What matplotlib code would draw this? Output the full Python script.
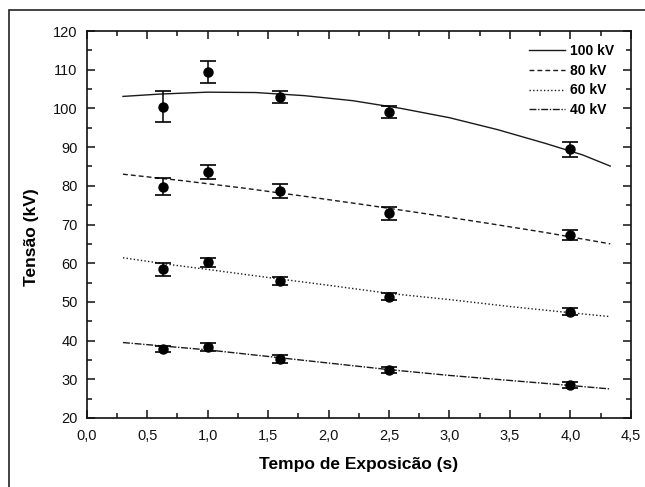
import matplotlib
matplotlib.use("Agg")
import matplotlib.pyplot as plt
from matplotlib.patches import Rectangle
from matplotlib.ticker import MultipleLocator, FuncFormatter

plt.rcParams['font.family'] = ['Liberation Sans', 'DejaVu Sans']

# measured points
t_exp = [0.63, 1.0, 1.6, 2.5, 4.0]
v100 = [100.4, 109.5, 102.9, 99.1, 89.4]
e100 = [4.0, 2.85, 1.55, 1.55, 1.95]
v80 = [79.8, 83.6, 78.6, 72.9, 67.3]
e80 = [2.3, 1.85, 1.75, 1.75, 1.2]
v60 = [58.4, 60.2, 55.5, 51.35, 47.4]
e60 = [1.75, 1.1, 1.05, 0.85, 0.9]
v40 = [37.75, 38.35, 35.2, 32.3, 28.5]
e40 = [0.8, 1.05, 0.95, 0.75, 0.85]

# fitted curves
c100_t = [0.3, 0.6, 1.0, 1.4, 1.8, 2.2, 2.6, 3.0, 3.4, 3.8, 4.1, 4.33]
c100_v = [103.1, 103.7, 104.2, 104.1, 103.3, 102.0, 100.0, 97.6, 94.5, 90.9, 88.0, 85.1]
c80_t = [0.3, 0.8, 1.3, 1.8, 2.3, 2.8, 3.3, 3.8, 4.33]
c80_v = [83.0, 81.3, 79.4, 77.3, 75.1, 72.8, 70.4, 67.9, 65.0]
c60_t = [0.3, 0.7, 1.0, 1.5, 2.0, 2.5, 3.0, 3.5, 4.0, 4.33]
c60_v = [61.4, 59.6, 58.4, 56.3, 54.3, 52.2, 50.6, 48.8, 47.2, 46.2]
c40_t = [0.3, 1.0, 1.5, 2.0, 2.5, 3.0, 3.5, 4.0, 4.33]
c40_v = [39.5, 37.6, 35.9, 34.2, 32.5, 31.0, 29.7, 28.4, 27.5]

labels = ['100 kV', '80 kV', '60 kV', '40 kV']

fig = plt.figure(figsize=(6.45, 4.87), dpi=100)
ax = fig.add_axes([0.1344, 0.1417, 0.8436, 0.7946])

# outer frame (only left and top visible)
fig.patches.append(Rectangle((9 / 645, -0.1), 1.2, 1 - 10 / 487 + 0.1,
                             transform=fig.transFigure, fill=False,
                             edgecolor='#222222', linewidth=1.2))

lc = '#1a1a1a'
ax.plot(c100_t, c100_v, color=lc, lw=1.0, ls='-', label=labels[0])
ax.plot(c80_t, c80_v, color=lc, lw=1.0, ls=(0, (3.5, 2.2)), label=labels[1])
ax.plot(c60_t, c60_v, color=lc, lw=1.0, ls=(0, (1, 1.6)), label=labels[2])
ax.plot(c40_t, c40_v, color=lc, lw=1.0, ls=(0, (5, 1.2, 1, 1.2)), label=labels[3])

for vals, errs in [(v100, e100), (v80, e80), (v60, e60), (v40, e40)]:
    ax.errorbar(t_exp, vals, yerr=errs, fmt='o', color='black', ms=6.5,
                ecolor='black', elinewidth=1.1, capsize=5.5, capthick=1.2)

ax.set_xlim(0, 4.5)
ax.set_ylim(20, 120)
ax.xaxis.set_major_locator(MultipleLocator(0.5))
ax.xaxis.set_minor_locator(MultipleLocator(0.25))
ax.yaxis.set_major_locator(MultipleLocator(10))
ax.yaxis.set_minor_locator(MultipleLocator(5))
ax.xaxis.set_major_formatter(FuncFormatter(lambda v, p: f"{v:.1f}".replace('.', ',')))
ax.tick_params(which='both', direction='in', top=True, right=True, width=1.1,
               colors='#111111')
ax.tick_params(which='major', length=6)
ax.tick_params(which='minor', length=3.8)
ax.tick_params(axis='x', which='major', pad=8, labelsize=10.5)
ax.tick_params(axis='y', which='major', pad=6.5, labelsize=10.5)
for s in ax.spines.values():
    s.set_linewidth(1.2)
    s.set_color('#111111')

ax.set_xlabel('Tempo de Exposicão (s)', fontsize=12.5, fontweight='bold')
ax.set_ylabel('Tensão (kV)', fontsize=12.5, fontweight='bold')
ax.xaxis.label.set_va('center')
ax.xaxis.set_label_coords(0.5, -0.121)
ax.yaxis.label.set_va('center')
ax.yaxis.set_label_coords(-0.101, 0.4685)

leg = ax.legend(loc='upper right', bbox_to_anchor=(0.97, 0.967), frameon=False,
                prop={'weight': 'bold', 'size': 10}, handlelength=2.6,
                handletextpad=0.4, labelspacing=0.42, borderpad=0,
                borderaxespad=0)

fig.savefig('out.png', dpi=100)
